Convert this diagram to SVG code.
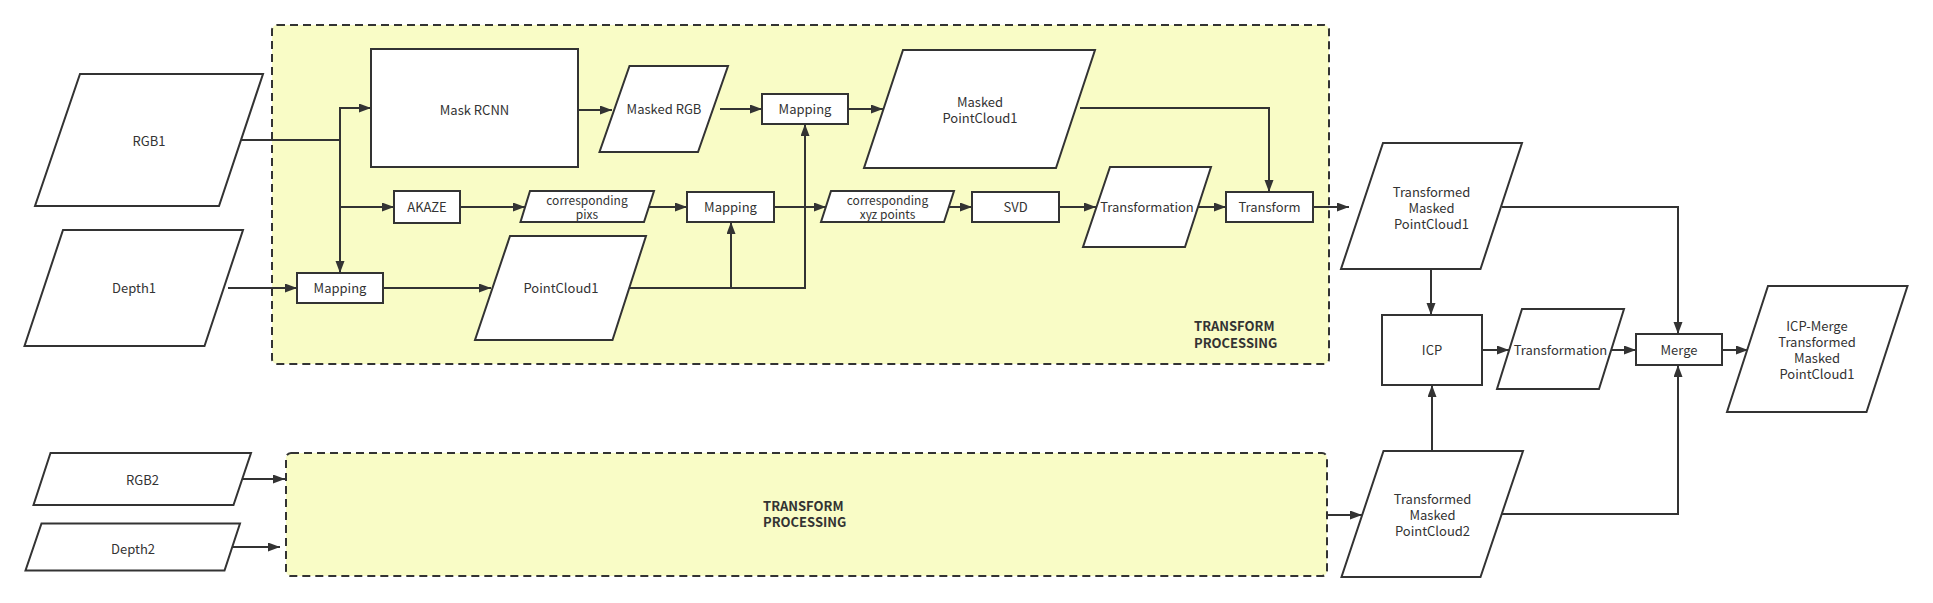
<svg xmlns="http://www.w3.org/2000/svg" width="1933" height="603" viewBox="0 0 1933 603">
<style>
.bg{fill:#ffffff}
.grp{fill:#f9fcc6;stroke:#333;stroke-width:2;stroke-dasharray:8 5}
.n{fill:#ffffff;stroke:#333;stroke-width:2}
.t{font-family:"Noto Sans CJK SC","Noto Sans",sans-serif;font-size:13px;fill:#333;text-anchor:middle}
.s{font-size:12px}
.lbl{font-family:"Noto Sans CJK SC","Noto Sans",sans-serif;font-size:13px;font-weight:bold;fill:#333}
.c{fill:none;stroke:#333;stroke-width:2;marker-end:url(#arr)}
</style>
<defs>
<marker id="arr" markerUnits="userSpaceOnUse" markerWidth="13" markerHeight="10" refX="12" refY="4.5" orient="auto">
<path d="M0,0 L12,4.5 L0,9 z" fill="#333"/>
</marker>
</defs>
<rect class="bg" x="0" y="0" width="1933" height="603"/>
<g id="group1">
<rect class="grp" x="272" y="25" width="1057" height="339" rx="5"/>
<text class="lbl" x="1194" y="331">TRANSFORM<tspan x="1194" dy="16.5">PROCESSING</tspan></text>
</g>
<g id="group2">
<rect class="grp" x="286" y="453" width="1041" height="123" rx="5"/>
<text class="lbl" x="763" y="510.5">TRANSFORM<tspan x="763" dy="16.5">PROCESSING</tspan></text>
</g>
<g id="connectors">
<path class="c" d="M241,140 H340 V273"/>
<path class="c" d="M340,140 V108 H371"/>
<path class="c" d="M340,207 H394"/>
<path class="c" d="M228,288 H297"/>
<path class="c" d="M383,288 H491"/>
<path class="c" d="M578,110 H612"/>
<path class="c" d="M720,109 H762"/>
<path class="c" d="M848,109 H883"/>
<path class="c" d="M460,207 H525"/>
<path class="c" d="M647,207 H687"/>
<path class="c" d="M629,288 H805 V124"/>
<path class="c" d="M731,288 V222"/>
<path class="c" d="M774,207 H826"/>
<path class="c" d="M949,207 H972"/>
<path class="c" d="M1059,207 H1096"/>
<path class="c" d="M1197,207 H1226"/>
<path class="c" d="M1080,108 H1269 V192"/>
<path class="c" d="M1313,207 H1349"/>
<path class="c" d="M1431,270 V315"/>
<path class="c" d="M1502,207 H1678 V334"/>
<path class="c" d="M1482,350 H1509"/>
<path class="c" d="M1611,350 H1636"/>
<path class="c" d="M1722,350 H1748"/>
<path class="c" d="M1432,451 V385"/>
<path class="c" d="M1502,514 H1678 V365"/>
<path class="c" d="M1327,515 H1362"/>
<path class="c" d="M243,479 H285"/>
<path class="c" d="M233,547 H280"/>
</g>
<g id="rgb1">
<polygon class="n" points="80,74 263,74 219,206 35,206"/>
<text class="t" x="149" y="146">RGB1</text>
</g>
<g id="depth1">
<polygon class="n" points="63,230 243,230 204.5,346 24.5,346"/>
<text class="t" x="134" y="293">Depth1</text>
</g>
<g id="maskrcnn">
<rect class="n" x="371" y="49" width="207" height="118"/>
<text class="t" x="474.5" y="114.5">Mask RCNN</text>
</g>
<g id="maskedrgb">
<polygon class="n" points="629.5,66 728,66 698,152 599.5,152"/>
<text class="t" x="664" y="114">Masked RGB</text>
</g>
<g id="mapping-top">
<rect class="n" x="762" y="94" width="86" height="30"/>
<text class="t" x="805" y="113.5">Mapping</text>
</g>
<g id="maskedpc1">
<polygon class="n" points="903,50 1095,50 1056,168 864,168"/>
<text class="t" x="980" y="106.5">Masked<tspan x="980" dy="16">PointCloud1</tspan></text>
</g>
<g id="akaze">
<rect class="n" x="394" y="191" width="66" height="32"/>
<text class="t" x="427" y="211.5">AKAZE</text>
</g>
<g id="corrpixs">
<polygon class="n" points="530,191 654,191 644,222 520.5,222"/>
<text class="t s" x="587" y="205">corresponding<tspan x="587" dy="14">pixs</tspan></text>
</g>
<g id="mapping-mid">
<rect class="n" x="687" y="192" width="87" height="30"/>
<text class="t" x="730.5" y="211.5">Mapping</text>
</g>
<g id="corrxyz">
<polygon class="n" points="831,191 954,191 944,222 821,222"/>
<text class="t s" x="887.5" y="205">corresponding<tspan x="887.5" dy="14">xyz points</tspan></text>
</g>
<g id="svd">
<rect class="n" x="972" y="192" width="87" height="30"/>
<text class="t" x="1015.5" y="211.5">SVD</text>
</g>
<g id="transformation1">
<polygon class="n" points="1110,167 1211,167 1185,247 1083,247"/>
<text class="t" x="1147" y="212">Transformation</text>
</g>
<g id="transform">
<rect class="n" x="1226" y="192" width="87" height="30"/>
<text class="t" x="1269.5" y="211.5">Transform</text>
</g>
<g id="mapping-bottom">
<rect class="n" x="297" y="273" width="86" height="30"/>
<text class="t" x="340" y="292.5">Mapping</text>
</g>
<g id="pointcloud1">
<polygon class="n" points="510,236 646,236 612.5,340 475,340"/>
<text class="t" x="561" y="293">PointCloud1</text>
</g>
<g id="tmpc1">
<polygon class="n" points="1383,143 1522,143 1480.5,269 1341,269"/>
<text class="t" x="1431.5" y="196.5">Transformed<tspan x="1431.5" dy="16">Masked</tspan><tspan x="1431.5" dy="16">PointCloud1</tspan></text>
</g>
<g id="icp">
<rect class="n" x="1382" y="315" width="100" height="70"/>
<text class="t" x="1432" y="354.5">ICP</text>
</g>
<g id="transformation2">
<polygon class="n" points="1522,309 1624,309 1599,389 1497,389"/>
<text class="t" x="1560.5" y="354.5">Transformation</text>
</g>
<g id="merge">
<rect class="n" x="1636" y="334" width="86" height="31"/>
<text class="t" x="1679" y="354.5">Merge</text>
</g>
<g id="icpmerge">
<polygon class="n" points="1768,286 1907.5,286 1866.5,412 1727,412"/>
<text class="t" x="1817" y="331">ICP-Merge<tspan x="1817" dy="16">Transformed</tspan><tspan x="1817" dy="16">Masked</tspan><tspan x="1817" dy="16">PointCloud1</tspan></text>
</g>
<g id="tmpc2">
<polygon class="n" points="1383.5,451 1523,451 1480.5,577 1341.5,577"/>
<text class="t" x="1432.5" y="503.5">Transformed<tspan x="1432.5" dy="16">Masked</tspan><tspan x="1432.5" dy="16">PointCloud2</tspan></text>
</g>
<g id="rgb2">
<polygon class="n" points="50.5,453 251,453 233.5,505 33.5,505"/>
<text class="t" x="142.5" y="485">RGB2</text>
</g>
<g id="depth2">
<polygon class="n" points="41.5,523.5 240,523.5 224.5,570.5 25.5,570.5"/>
<text class="t" x="133" y="553.5">Depth2</text>
</g>
</svg>
